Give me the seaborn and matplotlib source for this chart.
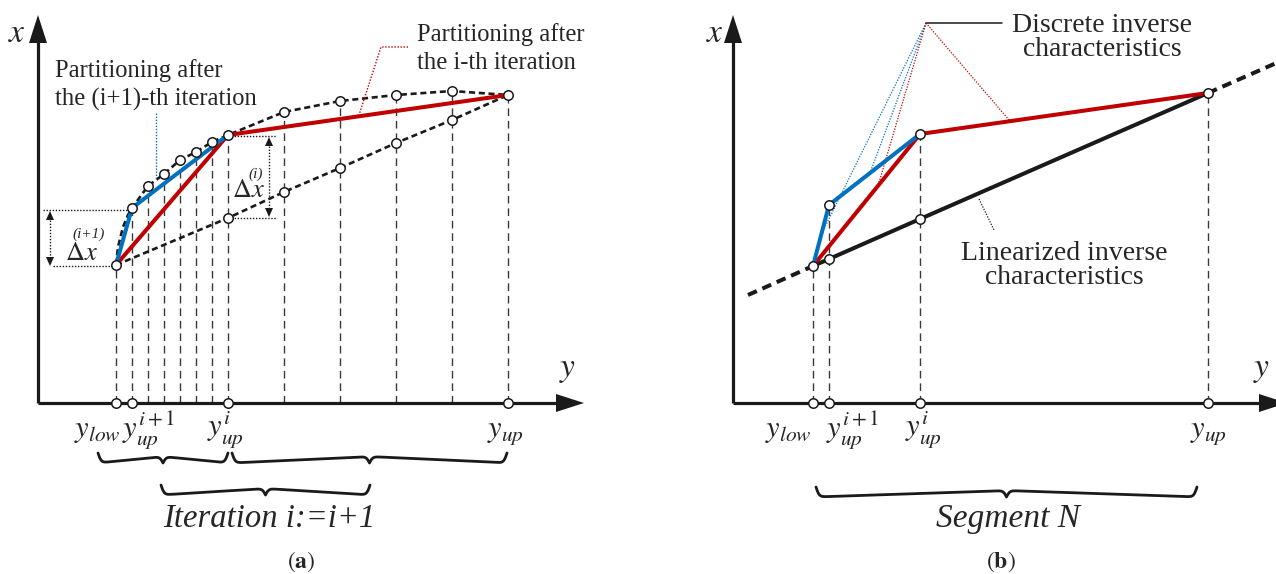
import numpy as np
import matplotlib
matplotlib.use("Agg")
import matplotlib.pyplot as plt
import seaborn as sns

sns.set_theme(style="white")
plt.rcParams["font.family"] = ["Liberation Serif", "DejaVu Serif"]
plt.rcParams["mathtext.fontset"] = "stix"

RED  = "#C00000"
BLUE = "#0070C0"
GREY = "#3a3a3a"
W, H = 1276, 574

# ---------------- panel (a) : values (pixel units) ----------------
a_origin   = (38, 403)
a_grid_y   = [116, 132, 148, 164, 180, 196, 212, 228, 284, 340, 396, 452, 508]
a_grid_top = [265, 208, 186, 174, 160, 152, 142, 135, 112, 101, 95, 91, 95]
a_curve_y  = [116, 118, 123, 128, 132, 148, 164, 180, 196, 212, 228, 284, 340, 396, 452, 508]
a_curve_x  = [265, 247, 227, 215, 208, 186, 174, 160, 152, 142, 135, 112, 101, 95, 91, 95]
a_lin_y    = [116, 228, 284, 340, 396, 452, 508]
a_lin_x    = [265, 218, 192, 168, 143, 120, 95]
a_red_y    = [116, 228, 508]
a_red_x    = [265, 135, 95]
a_blue_y   = [116, 132, 228]
a_blue_x   = [265, 208, 135]
a_axis_pts = [116, 132, 228, 508]
a_ticks    = [r"$y_{low}$", r"$y_{up}^{i+1}$", r"$y_{up}^{i}$", r"$y_{up}$"]
a_tick_x   = [74, 122, 207, 487]

# ---------------- panel (b) ----------------
b_origin   = (733, 403)
b_grid_y   = [813, 829, 920, 1208]
b_grid_top = [266, 205, 134, 93]
b_blue_y   = [813, 829, 920]
b_blue_x   = [266, 205, 134]
b_red_y    = [813, 920, 1208]
b_red_x    = [266, 134, 93]
b_lin_y    = [813, 829, 920, 1208]
b_lin_x    = [266, 259, 219, 93]
b_extl_y, b_extl_x = [748, 813], [295, 266]
b_extr_y, b_extr_x = [1208, 1290], [93, 57]
b_ticks    = a_ticks
b_tick_x   = [765, 826, 905, 1190]

fig = plt.figure(figsize=(W / 100, H / 100), dpi=100)
ax = fig.add_axes([0, 0, 1, 1])
ax.set_xlim(0, W)
ax.set_ylim(H, 0)
ax.axis("off")


def tri(tip, direction, length=28, half=9):
    tx, ty = tip
    dx, dy = direction
    bx, by = tx - dx * length, ty - dy * length
    px, py = -dy * half, dx * half
    ax.fill([tx, bx + px, bx - px], [ty, by + py, by - py], color="k", lw=0, zorder=6)


def axes_arrows(origin, x_end, y_end):
    ox, oy = origin
    ax.plot([ox, ox], [oy, y_end + 20], color="k", lw=2.3, solid_capstyle="butt", zorder=5)
    ax.plot([ox, x_end - 20], [oy, oy], color="k", lw=2.3, solid_capstyle="butt", zorder=5)
    tri((ox, y_end), (0, -1))
    tri((x_end, oy), (1, 0))


def brace(x0, x1, ytop, h=10.0, tilt=6.5, s=1.6):
    half = (x1 - x0) / 2
    d = np.linspace(0, half, 300)
    e = half - d
    sig = lambda z: 1 / (1 + np.exp(-z))
    v = h * (2 * sig(d / s) - 1) - tilt * d / half + 2 * tilt * sig(-e / s)
    xs = np.concatenate([x0 + d, x1 - d[::-1]])
    ys = np.concatenate([v, v[::-1]])
    ax.plot(xs, ytop + ys, color="k", lw=2.0, zorder=5)


def dbl_arrow(x, y0, y1):
    ax.plot([x, x], [y0 + 6, y1 - 6], color="k", lw=1, ls=(0, (1, 1.2)), zorder=5)
    tri((x, y0), (0, -1), length=9, half=4)
    tri((x, y1), (0, 1), length=9, half=4)


circ = dict(marker="o", ms=6.8, mfc="white", mec="k", mew=1.1, ls="none", zorder=8)

# ---------------- draw panel (a) ----------------
axes_arrows(a_origin, 584, 15)
for gx, gt in zip(a_grid_y, a_grid_top):
    ax.plot([gx, gx], [a_origin[1], gt], color=GREY, lw=1.0, ls=(0, (5.5, 3.5)), zorder=2)

dot = (0, (2.3, 1.4))
ax.plot(a_curve_y, a_curve_x, color="k", lw=1.9, ls=dot, zorder=3)
ax.plot(a_lin_y, a_lin_x, color="k", lw=1.9, ls=dot, zorder=3)
sns.lineplot(x=a_red_y, y=a_red_x, sort=False, color=RED, lw=2.9, ax=ax, zorder=4)
sns.lineplot(x=a_blue_y, y=a_blue_x, sort=False, color=BLUE, lw=2.9, ax=ax, zorder=4)

ax.plot(a_grid_y, a_grid_top, **circ)
ax.plot(a_lin_y[1:-1], a_lin_x[1:-1], **circ)
ax.plot(a_axis_pts, [a_origin[1]] * len(a_axis_pts), **circ)

# delta-x markers
fine = (0, (1, 1.2))
ax.plot([43, 132], [210, 210], color="k", lw=1, ls=fine, zorder=3)
ax.plot([53, 116], [266, 266], color="k", lw=1, ls=fine, zorder=3)
dbl_arrow(50, 211, 266)
ax.plot([228, 277], [136, 136], color="k", lw=1, ls=fine, zorder=3)
ax.plot([228, 277], [218, 218], color="k", lw=1, ls=fine, zorder=3)
dbl_arrow(269, 137, 217)
ax.text(65, 260, r"$\Delta x$", fontsize=19, ha="left", va="baseline")
ax.text(72, 238, "(i+1)", fontsize=11, style="italic", ha="left", va="baseline")
ax.text(232, 197, r"$\Delta x$", fontsize=19, ha="left", va="baseline")
ax.text(248, 178, "(i)", fontsize=11, style="italic", ha="left", va="baseline")

# callouts
ax.text(55, 77, "Partitioning after", fontsize=17.7, ha="left", va="baseline")
ax.text(55, 106, "the (i+1)-th iteration", fontsize=17.7, ha="left", va="baseline")
ax.plot([156, 156], [113, 180], color=BLUE, lw=1, ls=fine, zorder=3)
ax.text(417, 41, "Partitioning after", fontsize=17.7, ha="left", va="baseline")
ax.text(417, 69, "the i-th iteration", fontsize=17.7, ha="left", va="baseline")
ax.plot([408, 381, 359], [47, 47, 115], color=RED, lw=1, ls=fine, zorder=3)

# axis names and labels
ax.text(17, 42, r"$x$", fontsize=24, ha="center", va="baseline")
ax.text(568, 376, r"$y$", fontsize=24, ha="center", va="baseline")
for lab, lx in zip(a_ticks, a_tick_x):
    ax.text(lx, 437, lab, fontsize=22, ha="left", va="baseline")

brace(98, 228, 453)
brace(232, 507, 453)
brace(161, 370, 485)
ax.text(269, 527, "Iteration i:=i+1", fontsize=23.5, style="italic", ha="center", va="baseline")
ax.text(301, 568, r"$(\mathbf{a})$", fontsize=17, ha="center", va="baseline")

# ---------------- draw panel (b) ----------------
axes_arrows(b_origin, 1287, 15)
for gx, gt in zip(b_grid_y, b_grid_top):
    ax.plot([gx, gx], [b_origin[1], gt], color=GREY, lw=1.0, ls=(0, (5.5, 3.5)), zorder=2)

ax.plot(b_extl_y, b_extl_x, color="k", lw=2.9, ls=(0, (2.4, 1.5)), zorder=3)
ax.plot(b_extr_y, b_extr_x, color="k", lw=2.9, ls=(0, (2.4, 1.5)), zorder=3)
sns.lineplot(x=b_lin_y, y=b_lin_x, sort=False, color="k", lw=2.9, ax=ax, zorder=4)
sns.lineplot(x=b_red_y, y=b_red_x, sort=False, color=RED, lw=2.9, ax=ax, zorder=4)
sns.lineplot(x=b_blue_y, y=b_blue_x, sort=False, color=BLUE, lw=2.9, ax=ax, zorder=4)

ax.plot(b_blue_y, b_blue_x, **circ)
ax.plot(b_red_y[-1:], b_red_x[-1:], **circ)
ax.plot(b_lin_y[1:3], b_lin_x[1:3], **circ)
ax.plot(b_grid_y, [b_origin[1]] * len(b_grid_y), **circ)

# callouts
apex = (926, 23)
ax.plot([apex[0], 1002], [apex[1], apex[1]], color="k", lw=1.1, zorder=3)
for ex, ey, c in [(821, 235, BLUE), (870, 173, BLUE), (878, 186, RED), (1009, 120, RED)]:
    ax.plot([apex[0], ex], [apex[1], ey], color=c, lw=0.9, ls=fine, zorder=3)
ax.plot([979, 994], [199, 230], color="k", lw=0.9, ls=fine, zorder=3)
ax.text(1102, 32, "Discrete inverse", fontsize=20, ha="center", va="baseline")
ax.text(1102, 56, "characteristics", fontsize=20, ha="center", va="baseline")
ax.text(1064, 260, "Linearized inverse", fontsize=20, ha="center", va="baseline")
ax.text(1064, 284, "characteristics", fontsize=20, ha="center", va="baseline")

ax.text(715, 42, r"$x$", fontsize=24, ha="center", va="baseline")
ax.text(1262, 376, r"$y$", fontsize=24, ha="center", va="baseline")
for lab, lx in zip(b_ticks, b_tick_x):
    ax.text(lx, 437, lab, fontsize=22, ha="left", va="baseline")

brace(816, 1197, 487)
ax.text(1008, 527, "Segment N", fontsize=24, style="italic", ha="center", va="baseline")
ax.text(1001, 568, r"$(\mathbf{b})$", fontsize=17, ha="center", va="baseline")

fig.savefig("out.png", dpi=100)
